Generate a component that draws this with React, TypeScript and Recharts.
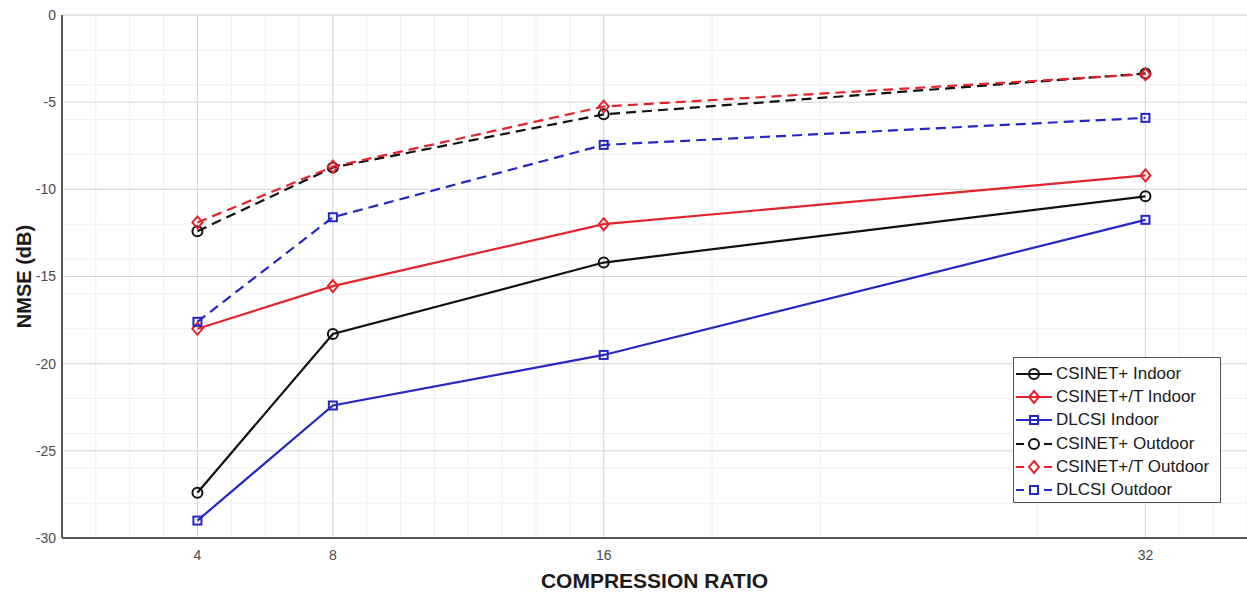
import { LineChart, Line, XAxis, YAxis, CartesianGrid } from 'recharts'

const ratios = [4, 8, 16, 32]
const csinetIndoor = [-27.4, -18.3, -14.2, -10.4]
const csinetTIndoor = [-18.0, -15.55, -12.0, -9.2]
const dlcsiIndoor = [-29.0, -22.4, -19.5, -11.75]
const csinetOutdoor = [-12.4, -8.75, -5.7, -3.35]
const csinetTOutdoor = [-11.9, -8.7, -5.25, -3.4]
const dlcsiOutdoor = [-17.6, -11.6, -7.45, -5.9]
const yTicks = [-30, -25, -20, -15, -10, -5, 0]

const data = ratios.map((r, i) => ({
  ratio: r,
  csinetIndoor: csinetIndoor[i],
  csinetTIndoor: csinetTIndoor[i],
  dlcsiIndoor: dlcsiIndoor[i],
  csinetOutdoor: csinetOutdoor[i],
  csinetTOutdoor: csinetTOutdoor[i],
  dlcsiOutdoor: dlcsiOutdoor[i],
}))

// faint minor grid, spaced like the original plot's minor ticks
const minorX: number[] = []
for (let v = 0; v < 8; v += 0.5) minorX.push(v)
for (let v = 8; v < 16; v += 1) minorX.push(v)
for (let v = 16; v < 32; v += 3.2) minorX.push(v)
for (let v = 32; v <= 35; v += 1) minorX.push(v)
const minorY: number[] = []
for (let v = -30; v <= 0; v += 1) minorY.push(v)

const BLACK = '#111111'
const RED = '#e3232c'
const BLUE = '#2626c8'
const font = '"Liberation Sans", Arial, sans-serif'

type Shape = 'circle' | 'diamond' | 'square'

function Marker({ shape, cx, cy, color }: { shape: Shape; cx: number; cy: number; color: string }) {
  if (shape === 'circle') return <circle cx={cx} cy={cy} r={5} fill="none" stroke={color} strokeWidth={2} />
  if (shape === 'square')
    return <rect x={cx - 4} y={cy - 4} width={8} height={8} fill="none" stroke={color} strokeWidth={2} />
  return (
    <path
      d={`M${cx},${cy - 6}L${cx + 5},${cy}L${cx},${cy + 6}L${cx - 5},${cy}Z`}
      fill="none"
      stroke={color}
      strokeWidth={2}
    />
  )
}

const dotFor = (shape: Shape, color: string) => (p: any) =>
  <Marker key={`${shape}-${color}-${p.index}`} shape={shape} cx={p.cx} cy={p.cy} color={color} />

const series = [
  { key: 'csinetIndoor', name: 'CSINET+ Indoor', color: BLACK, shape: 'circle' as Shape, dashed: false },
  { key: 'csinetTIndoor', name: 'CSINET+/T Indoor', color: RED, shape: 'diamond' as Shape, dashed: false },
  { key: 'dlcsiIndoor', name: 'DLCSI Indoor', color: BLUE, shape: 'square' as Shape, dashed: false },
  { key: 'csinetOutdoor', name: 'CSINET+ Outdoor', color: BLACK, shape: 'circle' as Shape, dashed: true },
  { key: 'csinetTOutdoor', name: 'CSINET+/T Outdoor', color: RED, shape: 'diamond' as Shape, dashed: true },
  { key: 'dlcsiOutdoor', name: 'DLCSI Outdoor', color: BLUE, shape: 'square' as Shape, dashed: true },
]

const tick = { fontSize: 14, fill: '#4a4a4a', fontFamily: font }

export default function App() {
  return (
    <div style={{ position: 'absolute', left: 0, top: 0, width: 1247, height: 594, background: '#fff' }}>
      <LineChart width={1247} height={594} data={data} margin={{ top: 15, right: 0, left: 0, bottom: 0 }}>
        <CartesianGrid stroke="#efefef" strokeWidth={1} verticalValues={minorX} horizontalValues={minorY} />
        <CartesianGrid stroke="#d6d6d6" strokeWidth={1} verticalValues={ratios} horizontalValues={yTicks} />
        <XAxis
          dataKey="ratio"
          type="number"
          domain={[0, 35]}
          ticks={ratios}
          tick={tick}
          tickLine={false}
          tickMargin={6}
          axisLine={{ stroke: '#555', strokeWidth: 2 }}
          height={56}
          label={{
            value: 'COMPRESSION RATIO',
            position: 'insideBottom',
            offset: 6,
            style: { fontSize: 21, fontWeight: 700, fill: '#1a1a1a', fontFamily: font },
          }}
        />
        <YAxis
          type="number"
          domain={[-30, 0]}
          ticks={yTicks}
          tick={tick}
          tickLine={false}
          tickMargin={0}
          axisLine={{ stroke: '#555', strokeWidth: 2 }}
          width={62}
          label={{
            value: 'NMSE (dB)',
            angle: -90,
            position: 'insideLeft',
            offset: 24,
            style: { fontSize: 20, fontWeight: 700, fill: '#1a1a1a', fontFamily: font, textAnchor: 'middle' },
          }}
        />
        {series.map((s) => (
          <Line
            key={s.key}
            dataKey={s.key}
            name={s.name}
            type="linear"
            stroke={s.color}
            strokeWidth={2.2}
            strokeDasharray={s.dashed ? '10 6' : undefined}
            dot={dotFor(s.shape, s.color)}
            activeDot={false}
            isAnimationActive={false}
          />
        ))}
      </LineChart>
      <div
        style={{
          position: 'absolute',
          left: 1013,
          top: 357,
          width: 208,
          height: 146,
          border: '1px solid #555',
          background: '#fff',
          boxSizing: 'border-box',
          padding: '4px 0 0 0',
          fontFamily: font,
          fontSize: 17,
          color: '#1a1a1a',
        }}
      >
        {series.map((s) => (
          <div key={s.key} style={{ display: 'flex', alignItems: 'center', height: 23.3 }}>
            <svg width={40} height={20} style={{ flex: 'none' }}>
              <line
                x1={2}
                y1={10}
                x2={38}
                y2={10}
                stroke={s.color}
                strokeWidth={2}
                strokeDasharray={s.dashed ? '8 20' : undefined}
              />
              <Marker shape={s.shape} cx={20} cy={10} color={s.color} />
            </svg>
            <span style={{ marginLeft: 2, whiteSpace: 'nowrap' }}>{s.name}</span>
          </div>
        ))}
      </div>
    </div>
  )
}
